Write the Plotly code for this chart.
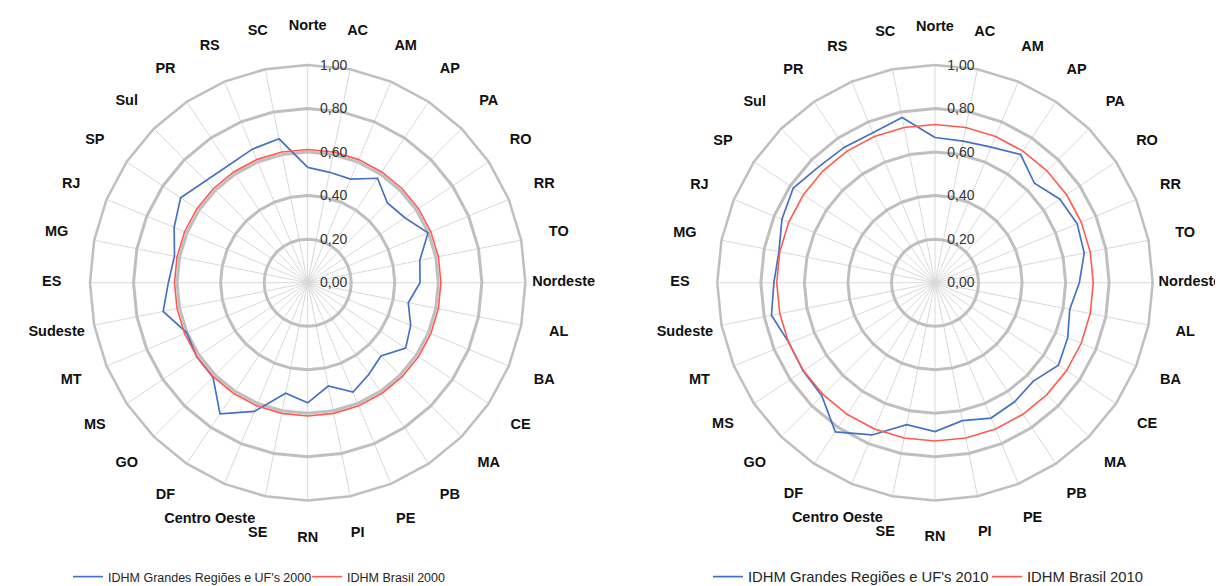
import plotly.graph_objects as go

categories = ["Norte", "AC", "AM", "AP", "PA", "RO", "RR", "TO",
              "Nordeste", "AL", "BA", "CE", "MA", "PB", "PE", "PI", "RN", "SE",
              "Centro Oeste", "DF", "GO", "MS", "MT",
              "Sudeste", "ES", "MG", "RJ", "SP",
              "Sul", "PR", "RS", "SC"]

idhm_2000 = [0.530, 0.517, 0.515, 0.577, 0.518, 0.537, 0.598, 0.525,
             0.516, 0.471, 0.512, 0.541, 0.476, 0.506, 0.544, 0.484, 0.552, 0.518,
             0.640, 0.725, 0.615, 0.613, 0.601,
             0.677, 0.640, 0.624, 0.664, 0.702,
             0.662, 0.650, 0.664, 0.674]

idhm_2010 = [0.667, 0.663, 0.674, 0.708, 0.646, 0.690, 0.707, 0.699,
             0.663, 0.631, 0.660, 0.682, 0.639, 0.658, 0.673, 0.646, 0.684, 0.665,
             0.757, 0.824, 0.735, 0.729, 0.725,
             0.766, 0.740, 0.731, 0.761, 0.783,
             0.754, 0.749, 0.746, 0.774]

brasil_2000 = 0.612
brasil_2010 = 0.727

series_names_2000 = ["IDHM Grandes Regiões e UF's 2000", "IDHM Brasil 2000"]
series_names_2010 = ["IDHM Grandes Regiões e UF's 2010", "IDHM Brasil 2010"]

BLUE = "#4472C4"
RED = "#FF5A4F"
FONT = "Liberation Sans, Arial, sans-serif"

theta_closed = categories + [categories[0]]

fig = go.Figure()


def add_chart(polar, label_polar, legend, names, values, brasil):
    fig.add_trace(go.Scatterpolar(
        r=values + [values[0]], theta=theta_closed, mode="lines",
        line=dict(color=BLUE, width=1.7), name=names[0],
        subplot=polar, legend=legend))
    fig.add_trace(go.Scatterpolar(
        r=[brasil] * (len(categories) + 1), theta=theta_closed, mode="lines",
        line=dict(color=RED, width=1.6), name=names[1],
        subplot=polar, legend=legend))
    # category labels, centred on a ring just outside the chart
    fig.add_trace(go.Scatterpolar(
        r=[1] * len(categories), theta=categories, mode="text",
        text=categories, textposition="middle center",
        textfont=dict(family=FONT, size=14.5, color="#111111", weight="bold"),
        cliponaxis=False, showlegend=False, hoverinfo="skip",
        subplot=label_polar))


add_chart("polar", "polar3", "legend", series_names_2000, idhm_2000, brasil_2000)
add_chart("polar2", "polar4", "legend2", series_names_2010, idhm_2010, brasil_2010)

W, H = 1223, 586
OFF = 8  # page body margin
CY = 282.7


def domain(cx, R):
    cx -= OFF
    cy = CY - OFF
    return dict(x=[(cx - R) / W, (cx + R) / W], y=[1 - (cy + R) / H, 1 - (cy - R) / H])


def polar_layout(cx):
    return dict(
        domain=domain(cx, 217.7),
        gridshape="linear",
        bgcolor="white",
        radialaxis=dict(range=[0, 1], dtick=0.2, tickformat=".2f", angle=90,
                        tickangle=90, showline=False,
                        ticks="outside", ticklen=9, tickcolor="rgba(0,0,0,0)",
                        gridcolor="#BFBFBF", gridwidth=2.5,
                        tickfont=dict(family=FONT, size=14, color="#333333"),
                        layer="above traces"),
        angularaxis=dict(type="category", categoryarray=categories,
                         direction="clockwise", rotation=90,
                         showline=True, linecolor="#BFBFBF", linewidth=2.5,
                         gridcolor="#D9D9D9", gridwidth=1,
                         showticklabels=False, ticks=""),
    )


def label_polar_layout(cx, R):
    return dict(
        domain=domain(cx, R),
        bgcolor="rgba(0,0,0,0)",
        radialaxis=dict(range=[0, 1], visible=False),
        angularaxis=dict(type="category", categoryarray=categories,
                         direction="clockwise", rotation=90,
                         showline=False, showgrid=False,
                         showticklabels=False, ticks=""),
    )


legend_common = dict(orientation="h", yanchor="middle", y=1 - (577 - OFF) / H,
                     xanchor="left", bgcolor="rgba(0,0,0,0)", itemwidth=30,
                     tracegroupgap=0, entrywidthmode="pixels")

fig.update_layout(
    width=W, height=H,
    margin=dict(l=0, r=0, t=0, b=0, autoexpand=False),
    paper_bgcolor="white",
    separators=",.",
    polar=polar_layout(307.7),
    polar2=polar_layout(935.0),
    polar3=label_polar_layout(307.7, 256),
    polar4=label_polar_layout(935.0, 255),
    legend=dict(x=(68 - OFF) / W, entrywidth=194,
                font=dict(family=FONT, size=12.5, color="#262626"), **legend_common),
    legend2=dict(x=(708 - OFF) / W, entrywidth=234,
                 font=dict(family=FONT, size=14.8, color="#262626"), **legend_common),
)

fig.write_html("out.html")
